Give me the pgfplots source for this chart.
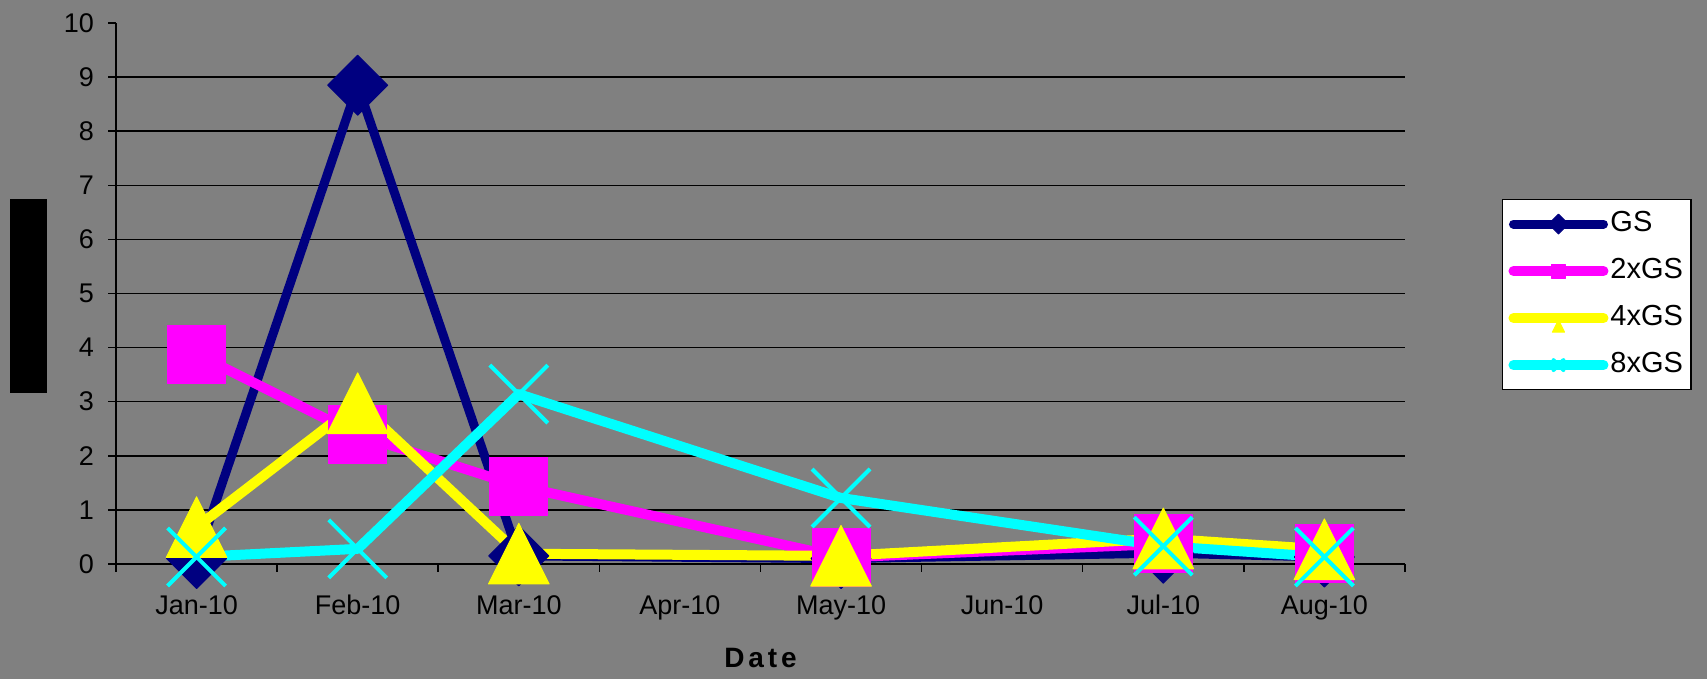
\documentclass[border=0pt]{standalone}
\usepackage{pgfplots}
\pgfplotsset{compat=1.18}
\usepackage{fontspec}
\setmainfont{Liberation Sans}
\definecolor{bg}{RGB}{128,128,128}
\definecolor{gsnavy}{RGB}{0,0,128}
\definecolor{gsmag}{RGB}{255,0,255}
\definecolor{gsyel}{RGB}{255,255,0}
\definecolor{gscyan}{RGB}{0,255,255}
\begin{document}
\fontsize{27pt}{32pt}\selectfont
\begin{tikzpicture}
\fill[bg] (0,0) rectangle (1707pt,679pt);
\path[use as bounding box] (0,0) rectangle (1707pt,679pt);
\fill[black] (10pt,286pt) rectangle (47pt,480pt);
\begin{axis}[
  at={(116pt,115pt)}, anchor=south west,
  scale only axis, width=1289pt, height=541pt,
  xmin=0.5, xmax=8.5, ymin=0, ymax=10,
  clip=false,
  axis x line=bottom, axis y line=left,
  axis line style={-, line width=1.5pt, black},
  tick align=outside,
  tick style={black, line width=1.5pt},
  xtick={1,...,8},
  xticklabels={Jan-10,Feb-10,Mar-10,Apr-10,May-10,Jun-10,Jul-10,Aug-10},
  major x tick style={draw=none},
  minor xtick={0.5,1.5,...,8.5},
  minor tick length=8pt,
  major tick length=8pt,
  ytick={0,...,10},
  extra y ticks={1,...,9},
  extra y tick labels={},
  extra y tick style={grid=major, major tick length=0pt},
  grid style={black, line width=1.5pt},
  /pgf/number format/assume math mode=true,
  tick label style={font=\fontsize{27pt}{32pt}\selectfont, black},
  yticklabel style={xshift=-5pt},
  xticklabel style={yshift=-14pt},
  xlabel={\fontsize{28pt}{32pt}\selectfont\bfseries\addfontfeature{LetterSpace=14}Date},
  xlabel style={at={(axis description cs:0.5,-0.1738)}, anchor=center},
  legend style={at={(axis description cs:1.0752,0.6747)}, anchor=north west,
    draw=black, line width=1.2pt, fill=white,
    font=\fontsize{29pt}{34pt}\selectfont,
    inner xsep=6pt, inner ysep=9pt, row sep=16pt,
    nodes={inner sep=2pt, text height=21pt, text depth=6pt}},
  legend cell align=left,
  legend image code/.code={
    \draw[mark repeat=2, mark phase=2, #1, line cap=round, mark size=7pt]
      plot coordinates {(0pt,0pt)(45pt,0pt)(90pt,0pt)};
  },
]
\addplot[gsnavy, line width=9pt, line join=round, mark=square*,
  mark size=21.2pt, mark options={rotate=45, line width=1pt, fill=gsnavy}]
  coordinates {(1,0.1) (2,8.85) (3,0.15) (5,0.1) (7,0.2) (8,0.13)};
\addlegendentry{GS}
\addplot[gsmag, line width=10pt, line join=round, mark=square*,
  mark size=29pt, mark options={line width=1pt, fill=gsmag}]
  coordinates {(1,3.88) (2,2.39) (3,1.44) (5,0.12) (7,0.37) (8,0.19)};
\addlegendentry{2xGS}
\addplot[gsyel, line width=10pt, line join=round, mark=triangle*,
  mark size=35pt, mark options={yshift=-10pt, yscale=1.155, line width=1pt, fill=gsyel}]
  coordinates {(1,0.68) (2,2.97) (3,0.19) (5,0.15) (7,0.47) (8,0.27)};
\addlegendentry{4xGS}
\addplot[gscyan, line width=10pt, line join=round, mark=x,
  mark size=41pt, mark options={line width=4pt}]
  coordinates {(1,0.13) (2,0.28) (3,3.14) (5,1.22) (7,0.33) (8,0.13)};
\addlegendentry{8xGS}
\end{axis}
\end{tikzpicture}
\end{document}
